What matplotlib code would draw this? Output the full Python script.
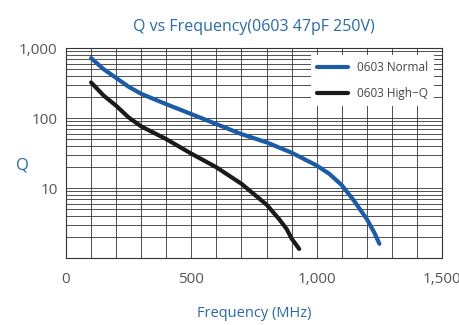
import matplotlib.pyplot as plt
from matplotlib.ticker import FixedLocator, LogLocator, NullFormatter, FuncFormatter

plt.rcParams['font.family'] = ['Open Sans', 'DejaVu Sans']

freq_normal = [100, 150, 200, 250, 300, 400, 500, 600, 700, 800, 900, 1000, 1050, 1100, 1150, 1200, 1230, 1250]
q_normal = [720, 500, 375, 280, 222, 158, 114, 82, 59, 45, 32, 21, 16, 11, 6.5, 3.6, 2.3, 1.6]

freq_highq = [100, 150, 200, 250, 300, 400, 500, 600, 700, 800, 850, 880, 900, 930]
q_highq = [323, 210, 150, 102, 76, 50, 31, 19.8, 11.5, 5.8, 3.6, 2.6, 1.9, 1.35]

x_ticks = [0, 500, 1000, 1500]
y_ticks = [10, 100, 1000]

blue = '#1c5ba6'
label_blue = '#2b6aa6'
grey = '#555555'

fig = plt.figure(figsize=(4.6, 3.25), dpi=100)
ax = fig.add_axes([0.1435, 0.206, 0.8175, 0.646])

ax.plot(freq_normal, q_normal, color=blue, lw=3.0, solid_capstyle='round', label='0603 Normal', zorder=3)
ax.plot(freq_highq, q_highq, color='#1a1a1a', lw=3.0, solid_capstyle='round', label='0603 High\u2212Q', zorder=3)

ax.set_yscale('log')
ax.set_xlim(0, 1500)
ax.set_ylim(1, 1000)

ax.xaxis.set_major_locator(FixedLocator(x_ticks))
ax.xaxis.set_minor_locator(FixedLocator(range(0, 1501, 100)))
ax.yaxis.set_major_locator(FixedLocator(y_ticks))
ax.yaxis.set_minor_locator(LogLocator(base=10, subs=range(1, 10)))
ax.yaxis.set_minor_formatter(NullFormatter())
ax.xaxis.set_major_formatter(FuncFormatter(lambda v, p: f'{int(v):,}'))
ax.yaxis.set_major_formatter(FuncFormatter(lambda v, p: f'{int(v):,}'))

ax.tick_params(which='both', length=0)
ax.tick_params(axis='x', pad=10, labelsize=11, labelcolor=grey)
ax.tick_params(axis='y', pad=6, labelsize=11, labelcolor=grey)

ax.grid(which='both', color='#333333', lw=0.6)
for s in ax.spines.values():
    s.set_color('#333333')
    s.set_linewidth(0.8)

ax.set_title('Q vs Frequency(0603 47pF 250V)', color=label_blue, fontsize=11.5, pad=12)
ax.set_xlabel('Frequency (MHz)', color=label_blue, fontsize=10.5, labelpad=14)
ax.set_ylabel('Q', color=label_blue, fontsize=12, rotation=0, va='center', ha='center')
ax.yaxis.set_label_coords(-0.117, 0.44)

leg = ax.legend(loc='upper right', fontsize=8.5, frameon=True, fancybox=False,
                framealpha=1, edgecolor='none', facecolor='white',
                handlelength=2.6, borderpad=0.5, labelspacing=1.1,
                bbox_to_anchor=(0.995, 0.995))
for t in leg.get_texts():
    t.set_color('#444444')

plt.savefig('out.png', dpi=100)
